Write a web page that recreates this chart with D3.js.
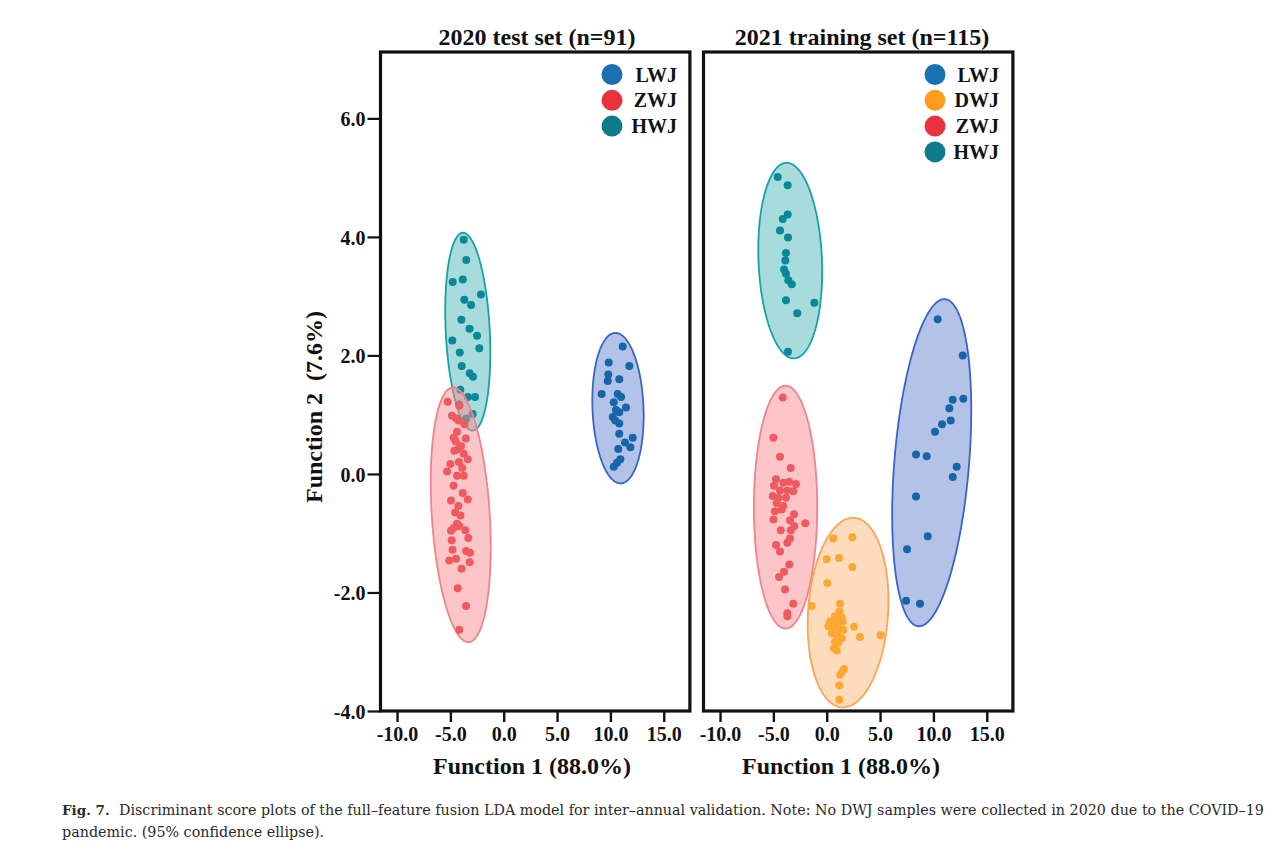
<!DOCTYPE html>
<html>
<head>
<meta charset="utf-8">
<script src="https://cdn.jsdelivr.net/npm/d3@7"></script>
<style>
  body { margin: 0; background: #fff; }
  svg { display: block; }
  .bold { font-family: "Liberation Serif", "Times New Roman", serif; font-weight: bold; fill: #111; }
  .caption { font-family: "DejaVu Serif", serif; font-size: 14.3px; fill: #2b2a29; }
</style>
</head>
<body>
<div id="chart"></div>
<script>
// Axis ticks
const xTicks = [-10, -5, 0, 5, 10, 15];
const yTicks = [-4, -2, 0, 2, 4, 6];

// Groups shown in each panel (legend order)
const testGroups = ["LWJ", "ZWJ", "HWJ"];
const trainGroups = ["LWJ", "DWJ", "ZWJ", "HWJ"];

// 2020 test set scores [Function 1, Function 2]
const testLWJ = [[11.15, 2.15], [9.84, 1.88], [11.77, 1.82], [9.80, 1.68], [10.83, 1.60], [9.75, 1.57],
  [9.18, 1.35], [10.68, 1.35], [10.31, 1.21], [11.46, 1.12], [10.52, 1.08], [10.83, 1.04], [10.22, 0.96],
  [10.83, 0.85], [10.83, 0.68], [12.09, 0.61], [11.37, 0.53], [11.87, 0.45], [10.74, 0.42], [10.93, 0.25],
  [10.62, 0.19], [10.31, 0.12], [10.45, 0.90], [11.0, 1.30]];
const testZWJ = [[-5.25, 1.22], [-4.85, 0.98], [-4.47, 0.94], [-4.25, 0.90], [-4.16, 1.15], [-3.69, 0.84],
  [-4.38, 0.71], [-4.69, 0.61], [-4.00, 0.47], [-4.63, 0.39], [-4.25, 0.42], [-3.75, 0.34], [-3.37, 0.25],
  [-5.00, 0.17], [-5.31, 0.04], [-4.38, -0.03], [-3.75, -0.03], [-3.84, -0.32], [-3.37, -0.43], [-4.94, -0.45],
  [-4.25, -0.54], [-4.38, -0.84], [-4.69, -0.91], [-4.16, -0.88], [-4.94, -0.96], [-3.32, -1.08], [-4.87, -1.12],
  [-3.53, -1.30], [-3.16, -1.33], [-5.10, -1.46], [-4.47, -1.43], [-3.19, -1.49], [-4.31, -1.93], [-3.53, -2.23],
  [-4.16, -2.63], [-4.50, 0.55], [-3.90, 0.10], [-4.70, -0.20], [-4.05, -0.70], [-3.60, -0.95], [-4.80, -1.28],
  [-3.95, -1.60], [-4.20, 0.20], [-3.55, 0.60], [-4.55, -0.65]];
const testHWJ = [[-3.75, 3.95], [-3.51, 3.61], [-4.78, 3.24], [-3.84, 3.28], [-2.14, 3.03], [-3.69, 2.94],
  [-3.06, 2.85], [-3.97, 2.60], [-4.82, 2.25], [-2.50, 2.33], [-2.29, 2.12], [-4.12, 2.05], [-3.94, 1.82],
  [-3.19, 1.70], [-2.88, 1.64], [-3.37, 1.30], [-2.69, 1.30], [-2.91, 1.01], [-4.07, 1.42], [-4.16, 1.17],
  [-3.53, 0.93], [-3.20, 2.45]];

// 2021 training set scores [Function 1, Function 2]
const trainLWJ = [[10.40, 2.61], [12.75, 2.00], [11.81, 1.25], [12.80, 1.27], [11.49, 1.11], [11.62, 0.90],
  [10.81, 0.84], [10.15, 0.71], [8.37, 0.33], [9.37, 0.30], [12.18, 0.12], [11.81, -0.05], [8.37, -0.38],
  [9.47, -1.05], [7.53, -1.27], [7.44, -2.14], [8.74, -2.19]];
const trainDWJ = [[0.62, -1.09], [2.40, -1.07], [0.00, -1.44], [1.15, -1.42], [2.40, -1.57], [0.06, -1.84],
  [-1.41, -2.23], [1.25, -2.19], [1.18, -2.32], [0.78, -2.40], [1.41, -2.42], [0.31, -2.49], [0.94, -2.52],
  [1.50, -2.49], [0.15, -2.57], [0.62, -2.60], [1.25, -2.61], [2.56, -2.58], [1.56, -2.63], [0.47, -2.69],
  [0.94, -2.72], [1.41, -2.77], [3.12, -2.75], [5.06, -2.72], [0.78, -2.83], [1.09, -2.85], [0.68, -2.94],
  [0.94, -2.98], [1.62, -3.29], [1.41, -3.35], [1.25, -3.39], [1.18, -3.57], [1.18, -3.81]];
const trainZWJ = [[-4.12, 1.29], [-5.00, 0.61], [-4.38, 0.29], [-3.37, 0.10], [-4.75, -0.09], [-4.07, -0.15],
  [-3.51, -0.13], [-2.88, -0.17], [-4.94, -0.20], [-4.38, -0.28], [-3.69, -0.28], [-3.13, -0.29], [-5.06, -0.37],
  [-4.54, -0.40], [-3.81, -0.40], [-4.69, -0.49], [-4.07, -0.54], [-4.85, -0.63], [-4.22, -0.60], [-3.06, -0.68],
  [-5.00, -0.77], [-3.44, -0.78], [-2.01, -0.83], [-3.04, -0.88], [-4.31, -0.95], [-3.37, -0.95], [-3.44, -1.09],
  [-3.69, -1.16], [-4.75, -1.20], [-4.38, -1.31], [-3.51, -1.53], [-4.00, -1.65], [-4.47, -1.74], [-3.91, -1.95],
  [-3.13, -2.19], [-3.69, -2.35], [-3.69, -2.40]];
const trainHWJ = [[-4.59, 5.01], [-3.66, 4.87], [-3.66, 4.38], [-4.12, 4.30], [-4.38, 4.11], [-3.63, 3.99],
  [-3.82, 3.73], [-3.88, 3.60], [-3.82, 3.38], [-3.60, 3.27], [-3.28, 3.20], [-3.82, 2.93], [-1.16, 2.89],
  [-2.76, 2.71], [-3.63, 2.06], [-4.00, 3.45]];

// 95% confidence ellipses: [centre F1, centre F2, axis1 dF1, axis1 dF2, axis2 dF1, axis2 dF2]
const testEllipseLWJ = [10.71, 1.11, -0.28, 1.27, 2.39, 0.02];
const testEllipseZWJ = [-4.03, -0.69, -0.75, 2.15, 2.71, 0.03];
const testEllipseHWJ = [-3.37, 2.40, -0.47, 1.67, 2.06, 0.02];
const trainEllipseLWJ = [9.84, 0.19, 1.25, 2.76, 3.49, -0.05];
const trainEllipseDWJ = [2.00, -2.34, 0.59, 1.60, 3.74, -0.05];
const trainEllipseZWJ = [-3.86, -0.56, 0.00, 2.05, 2.97, 0.00];
const trainEllipseHWJ = [-3.42, 3.60, -0.39, 1.65, 2.97, 0.03];

// Colours
const colours = {
  LWJ: {point: "#1565a8", legend: "#1a70b0", fill: "#6787d1", stroke: "#3a63c6"},
  DWJ: {point: "#ffa733", legend: "#ff9c1a", fill: "#fbb97b", stroke: "#fba45a"},
  ZWJ: {point: "#ef5a60", legend: "#e8323e", fill: "#f98b91", stroke: "#ef858b"},
  HWJ: {point: "#08889a", legend: "#0e7b8a", fill: "#51b9b9", stroke: "#17a2a6"}
};

// Panels
const panels = [
  {
    title: "2020 test set (n=91)", titleX: 537, xLabelX: 532,
    left: 380.5, legendX: 612, legendTextX: 677,
    groups: testGroups,
    drawOrder: ["HWJ", "ZWJ", "LWJ"],
    points: {LWJ: testLWJ, ZWJ: testZWJ, HWJ: testHWJ},
    ellipses: {LWJ: testEllipseLWJ, ZWJ: testEllipseZWJ, HWJ: testEllipseHWJ},
    yAxis: true
  },
  {
    title: "2021 training set (n=115)", titleX: 862, xLabelX: 841,
    left: 703.5, legendX: 935, legendTextX: 999,
    groups: trainGroups,
    drawOrder: ["HWJ", "ZWJ", "DWJ", "LWJ"],
    points: {LWJ: trainLWJ, DWJ: trainDWJ, ZWJ: trainZWJ, HWJ: trainHWJ},
    ellipses: {LWJ: trainEllipseLWJ, DWJ: trainEllipseDWJ, ZWJ: trainEllipseZWJ, HWJ: trainEllipseHWJ},
    yAxis: false
  }
];

// Dimensions
const width = 1269;
const height = 845;
const plotWidth = 309.4;
const plotTop = 52;
const plotBottom = 711;

const svg = d3.select("#chart").append("svg")
    .attr("width", width)
    .attr("height", height);

svg.append("rect")
    .attr("width", width)
    .attr("height", height)
    .attr("fill", "#fff");

const y = d3.scaleLinear()
    .domain([-4, 7.12])
    .range([plotBottom, plotTop]);

const angles = d3.range(0, 360, 3).map(d => d * Math.PI / 180);

panels.forEach(p => {
    const x = d3.scaleLinear()
        .domain([-11.55, 17.45])
        .range([p.left, p.left + plotWidth]);

    const g = svg.append("g");

    // Ellipses and points, one group at a time
    const ellipseLine = d3.line()
        .x(d => x(d[0]))
        .y(d => y(d[1]))
        .curve(d3.curveLinearClosed);

    p.drawOrder.forEach(name => {
        const e = p.ellipses[name];
        const outline = angles.map(t => [
            e[0] + e[2] * Math.cos(t) + e[4] * Math.sin(t),
            e[1] + e[3] * Math.cos(t) + e[5] * Math.sin(t)
        ]);
        g.append("path")
            .attr("d", ellipseLine(outline))
            .attr("fill", colours[name].fill)
            .attr("fill-opacity", 0.5)
            .attr("stroke", colours[name].stroke)
            .attr("stroke-width", 1.8);

        g.selectAll(null)
            .data(p.points[name])
            .enter()
            .append("circle")
            .attr("cx", d => x(d[0]))
            .attr("cy", d => y(d[1]))
            .attr("r", 4)
            .attr("fill", colours[name].point);
    });

    // Frame
    g.append("rect")
        .attr("x", p.left)
        .attr("y", plotTop)
        .attr("width", plotWidth)
        .attr("height", plotBottom - plotTop)
        .attr("fill", "none")
        .attr("stroke", "#111")
        .attr("stroke-width", 3.2);

    // X axis
    const xAxis = g.append("g")
        .attr("transform", `translate(0,${plotBottom})`)
        .call(d3.axisBottom(x).tickValues(xTicks).tickSize(11).tickFormat(d => d.toFixed(1)));
    xAxis.select(".domain").remove();
    xAxis.selectAll("line").attr("stroke", "#111").attr("stroke-width", 2.4);
    xAxis.selectAll("text")
        .attr("class", "bold")
        .attr("y", 30)
        .attr("dy", null)
        .style("font-size", "20px");

    // Y axis (left panel only)
    if (p.yAxis) {
        const yAxis = g.append("g")
            .attr("transform", `translate(${p.left},0)`)
            .call(d3.axisLeft(y).tickValues(yTicks).tickSize(13).tickPadding(2).tickFormat(d => d.toFixed(1)));
        yAxis.select(".domain").remove();
        yAxis.selectAll("line").attr("stroke", "#111").attr("stroke-width", 2.2);
        yAxis.selectAll("text")
            .attr("class", "bold")
            .attr("dy", "0.36em")
            .style("font-size", "20px");

        g.append("text")
            .attr("class", "bold")
            .attr("transform", "translate(322,407) rotate(-90)")
            .attr("text-anchor", "middle")
            .style("font-size", "24px")
            .style("white-space", "pre")
            .text("Function 2  (7.6%)");
    }

    // Title
    g.append("text")
        .attr("class", "bold")
        .attr("x", p.titleX)
        .attr("y", 45)
        .attr("text-anchor", "middle")
        .style("font-size", "24px")
        .text(p.title);

    // X label
    g.append("text")
        .attr("class", "bold")
        .attr("x", p.xLabelX)
        .attr("y", 774)
        .attr("text-anchor", "middle")
        .style("font-size", "24px")
        .text("Function 1 (88.0%)");

    // Legend
    const legend = g.selectAll(".legend")
        .data(p.groups)
        .enter()
        .append("g")
        .attr("transform", (d, i) => `translate(0,${74.5 + i * 25.8})`);
    legend.append("circle")
        .attr("cx", p.legendX)
        .attr("r", 10.5)
        .attr("fill", d => colours[d].legend);
    legend.append("text")
        .attr("class", "bold")
        .attr("x", p.legendTextX)
        .attr("y", 7)
        .attr("text-anchor", "end")
        .style("font-size", "20px")
        .text(d => d);
});

// Caption
svg.append("text")
    .attr("class", "caption")
    .attr("x", 62)
    .attr("y", 815)
    .style("font-weight", "bold")
    .style("font-size", "13.5px")
    .text("Fig. 7.");
svg.append("text")
    .attr("class", "caption")
    .attr("x", 119)
    .attr("y", 815)
    .text("Discriminant score plots of the full\u2013feature fusion LDA model for inter\u2013annual validation. Note: No DWJ samples were collected in 2020 due to the COVID\u201319");
svg.append("text")
    .attr("class", "caption")
    .attr("x", 62)
    .attr("y", 837)
    .text("pandemic. (95% confidence ellipse).");
</script>
</body>
</html>
